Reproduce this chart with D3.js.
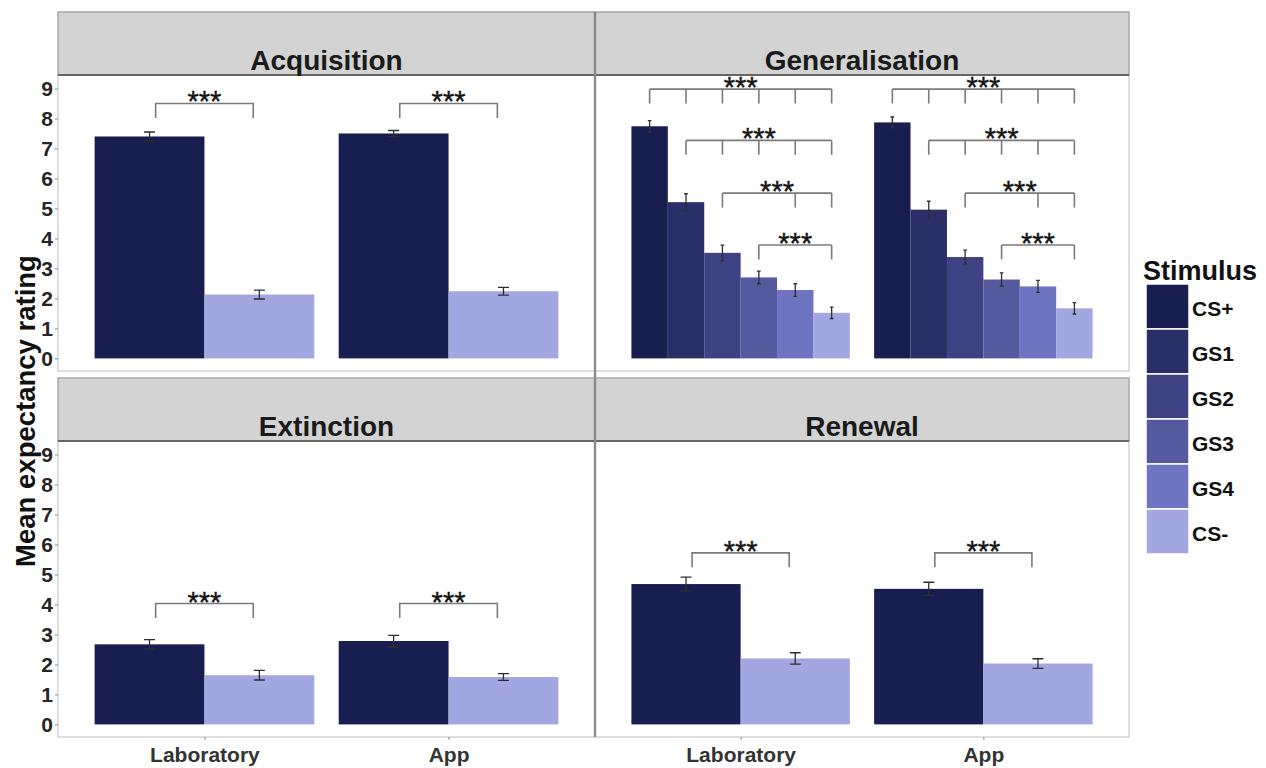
<!DOCTYPE html>
<html>
<head>
<meta charset="utf-8">
<script src="https://cdn.jsdelivr.net/npm/d3@7"></script>
<style>
  body { margin: 0; background: #fff; }
  text { font-family: "Liberation Sans", Arial, sans-serif; }
</style>
</head>
<body>
<svg id="chart" width="1266" height="768"></svg>
<script>
// ---- data -------------------------------------------------------------
const phases = ["Acquisition", "Generalisation", "Extinction", "Renewal"];
const contexts = ["Laboratory", "App"];
const stimuli = ["CS+", "GS1", "GS2", "GS3", "GS4", "CS-"];
const pairStimuli = ["CS+", "CS-"];
const yTicks = [0, 1, 2, 3, 4, 5, 6, 7, 8, 9];

// mean expectancy rating and standard error, one value per stimulus
const acquisitionLab = [7.40, 2.13];
const acquisitionLabErr = [0.15, 0.15];
const acquisitionApp = [7.50, 2.24];
const acquisitionAppErr = [0.10, 0.13];

const generalisationLab = [7.74, 5.21, 3.52, 2.70, 2.28, 1.52];
const generalisationLabErr = [0.19, 0.28, 0.26, 0.21, 0.21, 0.19];
const generalisationApp = [7.87, 4.96, 3.38, 2.63, 2.40, 1.67];
const generalisationAppErr = [0.18, 0.28, 0.23, 0.22, 0.20, 0.19];

const extinctionLab = [2.67, 1.64];
const extinctionLabErr = [0.16, 0.16];
const extinctionApp = [2.78, 1.58];
const extinctionAppErr = [0.19, 0.11];

const renewalLab = [4.68, 2.20];
const renewalLabErr = [0.23, 0.19];
const renewalApp = [4.52, 2.03];
const renewalAppErr = [0.22, 0.16];

// significance brackets (rating units)
const pairBracketHeights = [8.50, 8.50, 4.03, 5.72]; // by phase, Generalisation unused
const generalisationBracketHeights = [8.98, 7.27, 5.51, 3.78];
const generalisationBracketTicks = [
  ["CS+", "GS1", "GS2", "GS3", "GS4", "CS-"],
  ["GS1", "GS2", "GS3", "GS4", "CS-"],
  ["GS2", "GS4", "CS-"],
  ["GS3", "CS-"]
];
const bracketLabel = "***";
const bracketTip = 0.48;
const pairBracketHalfSpan = 0.2; // in category widths

// ---- styles -----------------------------------------------------------
const stimulusColours = ["#191e50", "#2b2f68", "#3e4282", "#555a9f", "#6e74c0", "#a3a7e1"];
const colour = d3.scaleOrdinal(stimuli, stimulusColours);

const svg = d3.select("#chart");
const cols = [[58, 595], [595, 1129]];
const stripRows = [[12, 75], [378, 441]];
const panelRows = [[75, 371], [441, 737]];
const yDomain = [-0.42, 9.45];

const panelSpecs = [
  { phase: "Acquisition", row: 0, col: 0, stim: pairStimuli,
    values: { Laboratory: [acquisitionLab, acquisitionLabErr], App: [acquisitionApp, acquisitionAppErr] } },
  { phase: "Generalisation", row: 0, col: 1, stim: stimuli,
    values: { Laboratory: [generalisationLab, generalisationLabErr], App: [generalisationApp, generalisationAppErr] } },
  { phase: "Extinction", row: 1, col: 0, stim: pairStimuli,
    values: { Laboratory: [extinctionLab, extinctionLabErr], App: [extinctionApp, extinctionAppErr] } },
  { phase: "Renewal", row: 1, col: 1, stim: pairStimuli,
    values: { Laboratory: [renewalLab, renewalLabErr], App: [renewalApp, renewalAppErr] } }
];

panelSpecs.forEach(p => {
  const [x0, x1] = cols[p.col];
  const [s0, s1] = stripRows[p.row];
  const [py0, py1] = panelRows[p.row];
  const x = d3.scalePoint(contexts, [x0, x1]).padding(0.6);
  const step = x.step();
  const y = d3.scaleLinear(yDomain, [py1, py0]);
  const inner = d3.scaleBand(p.stim, [-0.45 * step, 0.45 * step]);
  const g = svg.append("g").attr("class", "panel");

  g.append("rect")
    .attr("x", x0).attr("y", py0).attr("width", x1 - x0).attr("height", py1 - py0)
    .attr("fill", "#fff").attr("stroke", "#c8c8c8").attr("stroke-width", 1.2);

  const rows = contexts.flatMap(ctx => p.stim.map((s, i) => ({
    ctx, stim: s, mean: p.values[ctx][0][i], err: p.values[ctx][1][i]
  })));

  // bars
  g.selectAll("rect.bar").data(rows).join("rect")
    .attr("class", "bar")
    .attr("x", d => x(d.ctx) + inner(d.stim))
    .attr("width", inner.bandwidth())
    .attr("y", d => y(d.mean))
    .attr("height", d => y(0) - y(d.mean))
    .attr("fill", d => colour(d.stim));

  // error bars
  const cap = inner.bandwidth() * 0.05;
  g.selectAll("path.err").data(rows).join("path")
    .attr("class", "err")
    .attr("fill", "none").attr("stroke", "#2e2e2e").attr("stroke-width", 1.3)
    .attr("d", d => {
      const cx = x(d.ctx) + inner(d.stim) + inner.bandwidth() / 2;
      const yt = y(d.mean + d.err), yb = y(d.mean - d.err);
      return `M${cx - cap},${yt}H${cx + cap}M${cx},${yt}V${yb}M${cx - cap},${yb}H${cx + cap}`;
    });

  // significance brackets
  const bg = g.append("g").attr("fill", "none").attr("stroke", "#7a7a7a").attr("stroke-width", 1.6);
  const starG = g.append("g");
  const addStars = (cx, h) => {
    starG.append("text").attr("x", cx).attr("y", y(h) + 8)
      .attr("text-anchor", "middle").attr("font-size", 29).attr("fill", "#151515")
      .attr("stroke", "#151515").attr("stroke-width", 0.4)
      .text(bracketLabel);
  };
  contexts.forEach(ctx => {
    if (p.phase === "Generalisation") {
      generalisationBracketHeights.forEach((h, k) => {
        const ticks = generalisationBracketTicks[k].map(s => x(ctx) + inner(s) + inner.bandwidth() / 2);
        const xa = d3.min(ticks), xb = d3.max(ticks);
        bg.append("path").attr("d", `M${xa},${y(h)}H${xb}`);
        ticks.forEach(t => bg.append("path").attr("d", `M${t},${y(h)}V${y(h - bracketTip)}`));
        addStars((xa + xb) / 2, h);
      });
    } else {
      const h = pairBracketHeights[phases.indexOf(p.phase)];
      const xa = x(ctx) - pairBracketHalfSpan * step, xb = x(ctx) + pairBracketHalfSpan * step;
      bg.append("path").attr("d", `M${xa},${y(h - bracketTip)}V${y(h)}H${xb}V${y(h - bracketTip)}`);
      addStars((xa + xb) / 2, h);
    }
  });

  // strip
  g.append("rect")
    .attr("x", x0).attr("y", s0).attr("width", x1 - x0).attr("height", s1 - s0)
    .attr("fill", "#d3d3d3").attr("stroke", "#a8a8a8").attr("stroke-width", 1.5);
  g.append("line").attr("x1", x0).attr("x2", x1).attr("y1", s1).attr("y2", s1)
    .attr("stroke", "#666").attr("stroke-width", 2);
  g.append("text").attr("x", (x0 + x1) / 2).attr("y", s1 - 5)
    .attr("text-anchor", "middle").attr("font-size", 28).attr("font-weight", "bold")
    .attr("fill", "#1a1a1a").text(p.phase);

  // y axis on the left column
  if (p.col === 0) {
    const ax = g.append("g").attr("transform", `translate(${x0},0)`)
      .call(d3.axisLeft(y).tickValues(yTicks).tickSize(3).tickPadding(2));
    ax.select(".domain").remove();
    ax.selectAll(".tick line").attr("stroke", "#888");
    ax.selectAll(".tick text").attr("font-size", 21).attr("font-weight", "bold")
      .attr("fill", "#262626").attr("font-family", "Liberation Sans, Arial, sans-serif");
  }
  // x axis on the bottom row
  if (p.row === 1) {
    const ax = g.append("g").attr("transform", `translate(0,${py1})`)
      .call(d3.axisBottom(x).tickSize(3).tickPadding(7));
    ax.select(".domain").remove();
    ax.selectAll(".tick line").attr("stroke", "#888");
    ax.selectAll(".tick text").attr("font-size", 21).attr("font-weight", "bold")
      .attr("fill", "#333").attr("font-family", "Liberation Sans, Arial, sans-serif");
  }
});

// divider between the two columns
svg.append("line").attr("x1", 595).attr("x2", 595).attr("y1", 12).attr("y2", 737)
  .attr("stroke", "#8a8a8a").attr("stroke-width", 2.4);

// y axis title
svg.append("text")
  .attr("transform", "translate(35,411) rotate(-90)")
  .attr("text-anchor", "middle").attr("font-size", 27.5).attr("font-weight", "bold")
  .attr("fill", "#111").text("Mean expectancy rating");

// legend
const legend = svg.append("g").attr("transform", "translate(1146,284)");
legend.append("text").attr("x", -3).attr("y", -4).attr("font-size", 27).attr("font-weight", "bold")
  .attr("fill", "#111").text("Stimulus");
const keyH = 45, keyW = 43;
const items = legend.selectAll("g.key").data(stimuli).join("g")
  .attr("class", "key").attr("transform", (d, i) => `translate(0,${i * keyH})`);
items.append("rect").attr("width", keyW).attr("height", keyH)
  .attr("fill", d => colour(d)).attr("stroke", "#fff").attr("stroke-width", 1.5);
items.append("text").attr("x", keyW + 3).attr("y", keyH / 2 + 9)
  .attr("font-size", 21).attr("font-weight", "bold").attr("fill", "#111").text(d => d);
</script>
</body>
</html>
